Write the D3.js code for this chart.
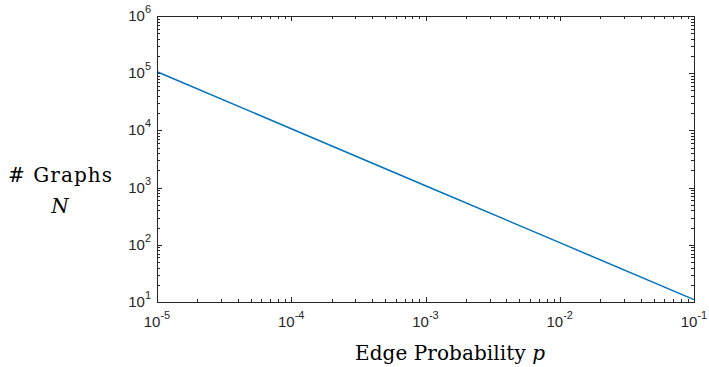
<!DOCTYPE html>
<html lang="en">
<head>
  <meta charset="UTF-8">
  <title>graphs vs edge probability</title>
  <style>
    body { margin: 0; background: #fff; }
    .tick-label { font-family: "Liberation Sans", Arial, sans-serif; font-size: 15px; fill: #262626; }
    .axis-title { font-family: "DejaVu Serif", "Liberation Serif", serif; font-size: 20px; fill: #000; }
  </style>
</head>
<body>
  <script src="https://cdn.jsdelivr.net/npm/d3@7"></script>
  <script type="text/javascript">
    // data
    var edgeProb = [1e-5, 1e-4, 1e-3, 1e-2, 1e-1];
    var numGraphs = [1.06e5, 1.07e4, 1.08e3, 109, 11];
    var xTickExp = [-5, -4, -3, -2, -1];
    var yTickExp = [1, 2, 3, 4, 5, 6];

    var width = 709, height = 367;
    var margin = {top: 16, right: 15, bottom: 65, left: 157};
    var x0 = margin.left, x1 = width - margin.right;
    var y0 = height - margin.bottom, y1 = margin.top;

    var svg = d3.select("body").append("svg")
      .attr("width", width)
      .attr("height", height);

    var x = d3.scaleLog().domain([1e-5, 1e-1]).range([x0, x1]);
    var y = d3.scaleLog().domain([1e1, 1e6]).range([y0, y1]);

    var axisColor = "#262626";

    // minor + major ticks, all pointing inward, on all four sides
    var xTicks = [];
    xTickExp.slice(0, -1).forEach(function(e) {
      for (var m = 1; m < 10; m++) xTicks.push({v: m * Math.pow(10, e), major: m === 1});
    });
    xTicks.push({v: 1e-1, major: true});
    var yTicks = [];
    yTickExp.slice(0, -1).forEach(function(e) {
      for (var m = 1; m < 10; m++) yTicks.push({v: m * Math.pow(10, e), major: m === 1});
    });
    yTicks.push({v: 1e6, major: true});

    var g = svg.append("g");
    var majorLen = 5, minorLen = 3;

    g.selectAll("line.xb").data(xTicks).enter().append("line")
      .attr("x1", function(d) { return Math.round(x(d.v)) + 0.5; })
      .attr("x2", function(d) { return Math.round(x(d.v)) + 0.5; })
      .attr("y1", y0).attr("y2", function(d) { return y0 - (d.major ? majorLen : minorLen); })
      .attr("stroke", axisColor);
    g.selectAll("line.xt").data(xTicks).enter().append("line")
      .attr("x1", function(d) { return Math.round(x(d.v)) + 0.5; })
      .attr("x2", function(d) { return Math.round(x(d.v)) + 0.5; })
      .attr("y1", y1).attr("y2", function(d) { return y1 + (d.major ? majorLen : minorLen); })
      .attr("stroke", axisColor);
    g.selectAll("line.yl").data(yTicks).enter().append("line")
      .attr("y1", function(d) { return Math.round(y(d.v)) + 0.5; })
      .attr("y2", function(d) { return Math.round(y(d.v)) + 0.5; })
      .attr("x1", x0).attr("x2", function(d) { return x0 + (d.major ? majorLen : minorLen); })
      .attr("stroke", axisColor);
    g.selectAll("line.yr").data(yTicks).enter().append("line")
      .attr("y1", function(d) { return Math.round(y(d.v)) + 0.5; })
      .attr("y2", function(d) { return Math.round(y(d.v)) + 0.5; })
      .attr("x1", x1).attr("x2", function(d) { return x1 - (d.major ? majorLen : minorLen); })
      .attr("stroke", axisColor);

    // the data line
    var line = d3.line()
      .x(function(d, i) { return x(edgeProb[i]); })
      .y(function(d) { return y(d); });
    svg.append("path")
      .datum(numGraphs)
      .attr("d", line)
      .attr("fill", "none")
      .attr("stroke", "#0072BD")
      .attr("stroke-width", 1.5);

    // box
    svg.append("rect")
      .attr("x", x0 + 0.5).attr("y", y1 + 0.5)
      .attr("width", x1 - x0).attr("height", y0 - y1)
      .attr("fill", "none")
      .attr("stroke", axisColor)
      .attr("stroke-width", 1);

    // tick labels  10^e
    var xl = svg.selectAll("text.xl").data(xTickExp).enter().append("text")
      .attr("class", "tick-label")
      .attr("x", function(d) { return x(Math.pow(10, d)); })
      .attr("y", y0 + 25)
      .attr("text-anchor", "middle");
    xl.append("tspan").text("10");
    xl.append("tspan").attr("dy", -8).attr("font-size", "11px").text(function(d) { return d; });

    var yl = svg.selectAll("text.yl").data(yTickExp).enter().append("text")
      .attr("class", "tick-label")
      .attr("x", x0 - 6)
      .attr("y", function(d) { return y(Math.pow(10, d)) + 5; })
      .attr("text-anchor", "end");
    yl.append("tspan").text("10");
    yl.append("tspan").attr("dy", -8).attr("font-size", "11px").text(function(d) { return d; });

    // axis titles
    var xt = svg.append("text").attr("class", "axis-title")
      .attr("x", 355).attr("y", 360)
      .attr("textLength", 190)
      .attr("lengthAdjust", "spacing");
    xt.append("tspan").text("Edge Probability ");
    xt.append("tspan").attr("font-style", "italic").text("p");

    svg.append("text").attr("class", "axis-title")
      .attr("x", 8).attr("y", 182)
      .attr("textLength", 104)
      .attr("lengthAdjust", "spacing")
      .text("# Graphs");
    svg.append("text").attr("class", "axis-title")
      .attr("x", 60).attr("y", 213)
      .attr("text-anchor", "middle")
      .attr("font-style", "italic")
      .text("N");
  </script>
</body>
</html>
